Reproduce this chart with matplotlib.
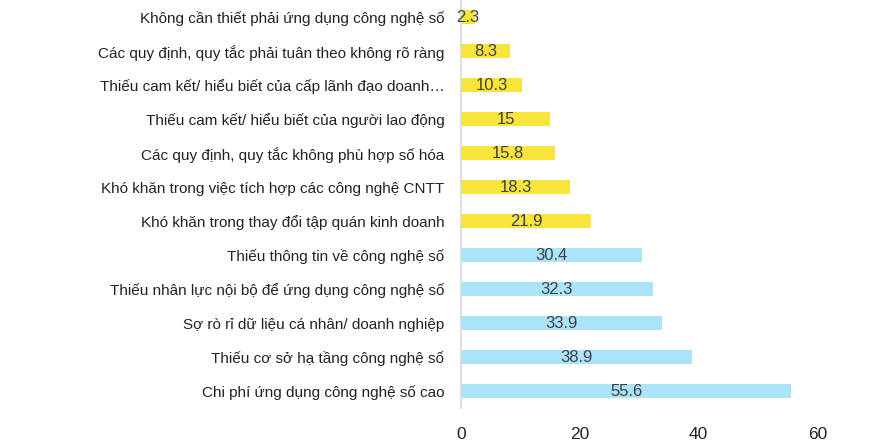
import matplotlib
matplotlib.use("Agg")
import matplotlib.pyplot as plt

plt.rcParams["font.family"] = ["Liberation Sans", "DejaVu Sans"]

# top to bottom as in the picture
categories = [
    "Không cần thiết phải ứng dụng công nghệ số",
    "Các quy định, quy tắc phải tuân theo không rõ ràng",
    "Thiếu cam kết/ hiểu biết của cấp lãnh đạo doanh…",
    "Thiếu cam kết/ hiểu biết của người lao động",
    "Các quy định, quy tắc không phù hợp số hóa",
    "Khó khăn trong việc tích hợp các công nghệ CNTT",
    "Khó khăn trong thay đổi tập quán kinh doanh",
    "Thiếu thông tin về công nghệ số",
    "Thiếu nhân lực nội bộ để ứng dụng công nghệ số",
    "Sợ rò rỉ dữ liệu cá nhân/ doanh nghiệp",
    "Thiếu cơ sở hạ tầng công nghệ số",
    "Chi phí ứng dụng công nghệ số cao",
]
values = [2.3, 8.3, 10.3, 15, 15.8, 18.3, 21.9, 30.4, 32.3, 33.9, 38.9, 55.6]
groups = ["minor"] * 7 + ["major"] * 5
value_labels = ["2.3", "8.3", "10.3", "15", "15.8", "18.3", "21.9",
                "30.4", "32.3", "33.9", "38.9", "55.6"]
xticks = [0, 20, 40, 60]

COLORS = {"minor": "#F9E43B", "major": "#AAE3FA"}

fig = plt.figure(figsize=(8.94, 4.46), dpi=100)
ax = fig.add_axes([461 / 894, 1 - 408 / 446, (877 - 461) / 894, 408 / 446])

ypos = list(range(len(categories)))
bars = ax.barh(ypos, values, height=0.44,
               color=[COLORS[g] for g in groups], edgecolor="none")
for b, lab in zip(bars, value_labels):
    ax.text(b.get_width() / 2, b.get_y() + b.get_height() / 2, lab,
            ha="center", va="center", fontsize=12, color="#404040")

ax.set_yticks(ypos)
ax.set_yticklabels(categories, fontsize=11, color="#222222")
ax.set_ylim(len(categories) - 0.5, -0.5)
ax.set_xlim(0, 70)
ax.set_xticks(xticks)
ax.set_xticklabels([str(t) for t in xticks], fontsize=12.5, color="#222222")
ax.tick_params(axis="both", length=0)
ax.tick_params(axis="y", pad=12)
ax.tick_params(axis="x", pad=14)
for s in ["top", "right", "bottom"]:
    ax.spines[s].set_visible(False)
ax.spines["left"].set_color("#D9D9D9")
ax.spines["left"].set_linewidth(1.2)

fig.savefig("out.png", dpi=100)
